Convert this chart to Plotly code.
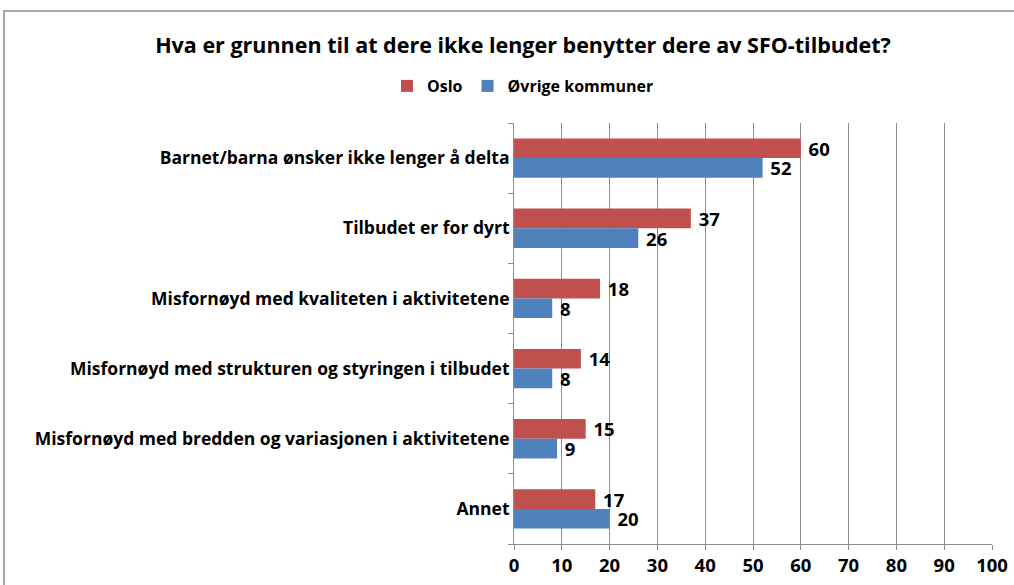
import plotly.graph_objects as go

# data
kategorier = [
    "Barnet/barna ønsker ikke lenger å delta",
    "Tilbudet er for dyrt",
    "Misfornøyd med kvaliteten i aktivitetene",
    "Misfornøyd med strukturen og styringen i tilbudet",
    "Misfornøyd med bredden og variasjonen i aktivitetene",
    "Annet",
]
oslo = [60, 37, 18, 14, 15, 17]
ovrige = [52, 26, 8, 8, 9, 20]
x_ticks = [0, 10, 20, 30, 40, 50, 60, 70, 80, 90, 100]

FONT = "Open Sans"
RED = "#C0504D"
BLUE = "#4F81BD"
GRA = "#8C8C8C"

fig = go.Figure()
for navn, verdier, farge in [("Oslo", oslo, RED), ("Øvrige kommuner", ovrige, BLUE)]:
    fig.add_trace(go.Bar(y=kategorier, x=verdier, orientation="h",
                         name=f"<b>{navn}</b>",
                         marker=dict(color=farge, line=dict(width=0)),
                         text=verdier, textposition="outside", constraintext="none",
                         texttemplate="\u00a0<b>%{text}</b>",
                         textfont=dict(family=FONT, size=18.5, color="#000000"),
                         cliponaxis=False))

# ramme rundt diagrammet (som i Excel)
fig.add_shape(type="rect", xref="paper", yref="paper",
              x0=-1.067, x1=1.2, y0=-0.3, y1=1.266,
              line=dict(color=GRA, width=1.5), layer="below")

fig.update_layout(
    width=1014, height=585,
    margin=dict(l=514, r=22, t=123, b=41, autoexpand=False),
    paper_bgcolor="white", plot_bgcolor="white",
    font=dict(family=FONT, size=17, color="#000000"),
    title=dict(text="<b>Hva er grunnen til at dere ikke lenger benytter dere av SFO-tilbudet?</b>",
               x=523 / 1014, xref="container", xanchor="center",
               y=1 - 45 / 585, yref="container", yanchor="middle",
               font=dict(family=FONT, size=21.5, color="#000000")),
    barmode="group", bargap=0.44, bargroupgap=0,
    showlegend=True,
    legend=dict(orientation="h", x=523 / 1014, xref="container", xanchor="center",
                y=1 - 86 / 585, yref="container", yanchor="middle",
                font=dict(family=FONT, size=16, color="#000000"),
                itemwidth=30, tracegroupgap=0),
)

fig.update_xaxes(range=[0, 100], tickvals=x_ticks,
                 ticktext=[f"<b>{t}</b>" for t in x_ticks], showgrid=True,
                 gridcolor=GRA, gridwidth=1, showline=True,
                 linecolor=GRA, linewidth=1, ticks="outside",
                 ticklen=5, tickcolor=GRA, zeroline=False,
                 tickfont=dict(family=FONT, size=18.5, color="#000000"))
fig.update_yaxes(autorange="reversed", showline=True, linecolor=GRA,
                 linewidth=1, ticks="outside", tickson="boundaries", ticklen=5,
                 tickcolor=GRA, showgrid=False,
                 tickvals=kategorier, ticktext=[f"<b>{k}</b>" for k in kategorier],
                 tickfont=dict(family=FONT, size=17.5, color="#000000"))

# fjern standardmargen på body så figuren starter i hjørnet
fig.write_html("out.html", config={"displayModeBar": False},
               post_script="document.body.style.margin='0';")
